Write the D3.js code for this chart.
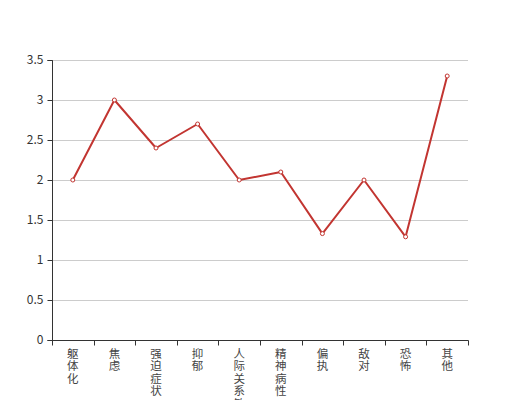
<!DOCTYPE html>
<html><head><meta charset="utf-8">
<script src="https://cdn.jsdelivr.net/npm/d3@7/dist/d3.min.js"></script>
<style>body{margin:0;background:#fff}svg{display:block}</style>
</head><body><svg id="c" width="520" height="400"></svg>
<script>
const categories = ["躯体化","焦虑","强迫症状","抑郁","人际关系敏感","精神病性","偏执","敌对","恐怖","其他"];
const values = [2, 3, 2.4, 2.7, 2, 2.1, 1.33, 2, 1.29, 3.3];
const yTicks = [0, 0.5, 1, 1.5, 2, 2.5, 3, 3.5];

(function(){
const svg = d3.select("#c");
const mLeft = 52, mRight = 468, mTop = 60, mBottom = 340;
const font = "'Noto Sans CJK SC', 'Noto Sans', sans-serif";

const x = d3.scaleBand().domain(categories).range([mLeft, mRight]).padding(0);
const y = d3.scaleLinear().domain([0, 3.5]).range([mBottom, mTop]);

// grid
svg.append("g").selectAll("line").data(yTicks.filter(d => d > 0)).join("line")
  .attr("x1", mLeft).attr("x2", mRight)
  .attr("y1", d => y(d) + 0.5).attr("y2", d => y(d) + 0.5)
  .attr("stroke", "#ccc").attr("stroke-width", 1);

// y axis
const ya = svg.append("g").attr("transform", `translate(${mLeft + 0.5},0)`)
  .call(d3.axisLeft(y).tickValues(yTicks).tickSize(5).tickPadding(4).tickFormat(d => String(d)));
ya.select(".domain").attr("stroke", "#333").attr("d", `M-5,${mBottom + 0.5}H0V${mTop + 0.5}H-5`);
ya.selectAll(".tick line").attr("stroke", "#333");
ya.selectAll(".tick text").attr("fill", "#333").style("font-size", "12px").style("font-family", font);

// x axis
const xa = svg.append("g").attr("transform", `translate(0,${mBottom + 0.5})`);
const bounds = categories.map(c => x(c)).concat([mRight]);
const tickPath = `M${mLeft},0H${mRight + 0.5}` + bounds.map(d => `M${Math.round(d) + 0.5},0V5`).join("");
xa.append("path").attr("d", tickPath).attr("fill", "none").attr("stroke", "#333").attr("stroke-width", 1);
const lab = xa.selectAll("text").data(categories).join("text")
  .attr("fill", "#444").style("font-size", "11.5px").style("font-family", font)
  .attr("text-anchor", "middle");
lab.each(function(c) {
  const t = d3.select(this);
  const cx = x(c) + x.bandwidth() / 2;
  Array.from(c).forEach((ch, i) => {
    t.append("tspan").attr("x", cx).attr("y", 17 + i * 12.6).text(ch);
  });
});

// line
const pts = categories.map((c, i) => [x(c) + x.bandwidth() / 2, y(values[i])]);
svg.append("path").attr("d", d3.line()(pts)).attr("fill", "none")
  .attr("stroke", "#c23531").attr("stroke-width", 2).attr("stroke-linejoin", "bevel");
svg.append("g").selectAll("circle").data(pts).join("circle")
  .attr("cx", d => d[0]).attr("cy", d => d[1]).attr("r", 2)
  .attr("fill", "#fff").attr("stroke", "#c23531").attr("stroke-width", 1);
})();
</script></body></html>
